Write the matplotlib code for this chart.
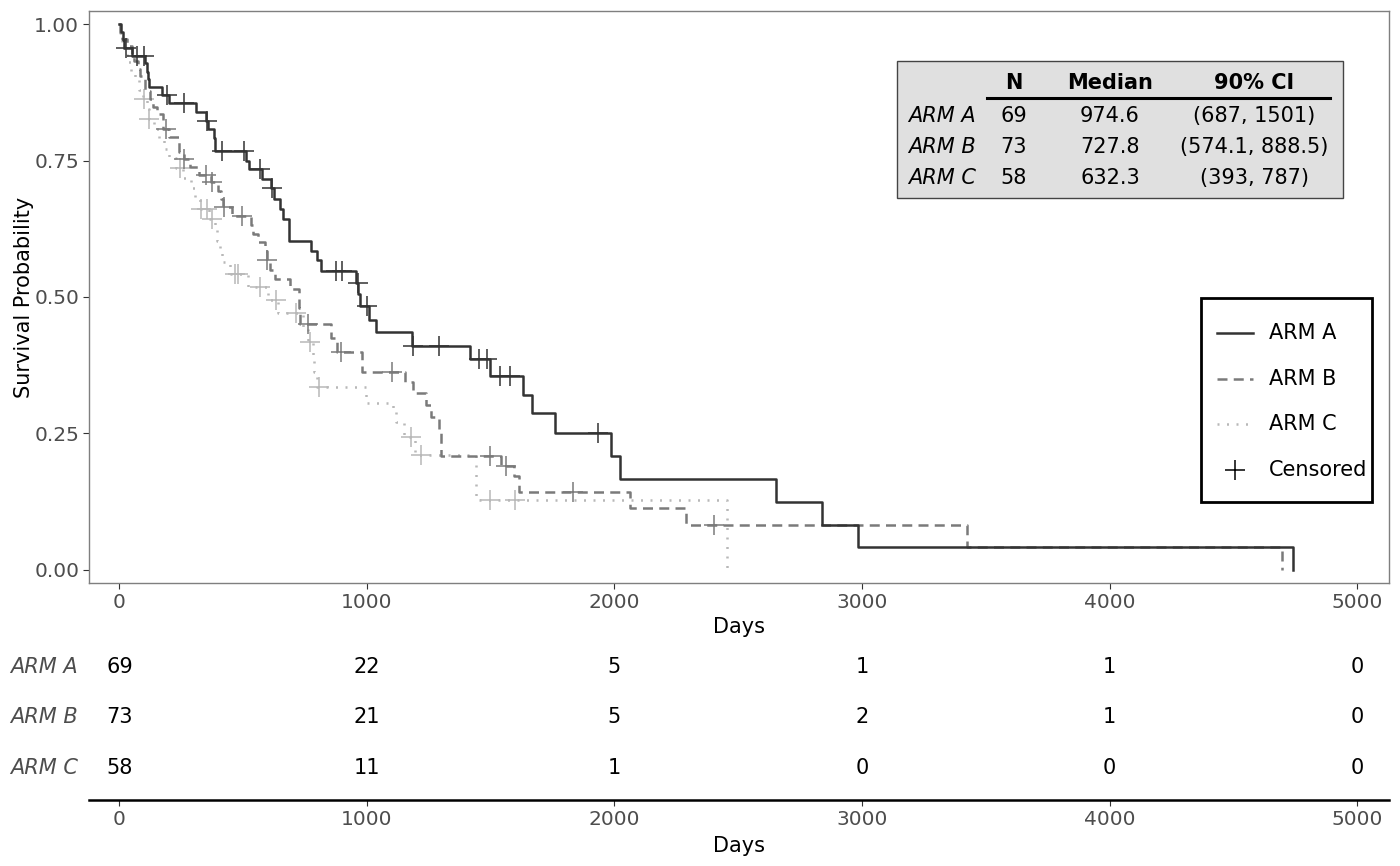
import numpy as np
import matplotlib
matplotlib.use("Agg")
import matplotlib.pyplot as plt
from matplotlib.lines import Line2D
from matplotlib.patches import Rectangle

# Kaplan-Meier steps: (event day, survival after the event)
arm_a_times = [8, 15, 20, 50, 105, 110, 115, 120, 170, 202, 310, 350, 357, 380, 386,
               512, 525, 574, 613, 626, 647, 659, 687, 775, 800, 815, 957, 963, 970,
               1010, 1037, 1181, 1415, 1496, 1630, 1668, 1761, 1987, 2021, 2652, 2838,
               2983, 4741]
arm_a_surv = [0.986, 0.971, 0.957, 0.942, 0.928, 0.913, 0.899, 0.884, 0.870, 0.855,
              0.839, 0.822, 0.807, 0.792, 0.768, 0.750, 0.735, 0.717, 0.699, 0.680,
              0.662, 0.642, 0.603, 0.585, 0.567, 0.548, 0.526, 0.505, 0.483, 0.457,
              0.436, 0.411, 0.387, 0.356, 0.320, 0.287, 0.250, 0.208, 0.166, 0.125,
              0.083, 0.042, 0.0]
arm_a_cens = [25, 69, 101, 194, 259, 352, 415, 505, 566, 617, 873, 900, 962, 1002,
              1185, 1293, 1452, 1486, 1536, 1576, 1933]

arm_b_times = [4, 12, 30, 50, 60, 75, 85, 105, 125, 135, 150, 175, 200, 240, 260, 285,
               320, 370, 400, 410, 420, 455, 530, 540, 560, 590, 595, 610, 630, 690,
               725, 728, 855, 880, 978, 1152, 1185, 1240, 1260, 1290, 1300, 1540, 1595,
               1615, 2061, 2288, 3424, 4697]
arm_b_surv = [0.986, 0.973, 0.959, 0.945, 0.932, 0.918, 0.904, 0.877, 0.863, 0.849,
              0.836, 0.808, 0.794, 0.766, 0.752, 0.738, 0.724, 0.710, 0.695, 0.680,
              0.665, 0.648, 0.632, 0.616, 0.600, 0.584, 0.567, 0.550, 0.533, 0.515,
              0.480, 0.450, 0.425, 0.400, 0.362, 0.345, 0.324, 0.302, 0.280, 0.250,
              0.208, 0.190, 0.172, 0.142, 0.114, 0.083, 0.042, 0.0]
arm_b_cens = [189, 262, 350, 372, 422, 497, 597, 760, 896, 1103, 1496, 1563, 1832, 2401]

arm_c_times = [3, 10, 20, 30, 47, 62, 80, 95, 110, 118, 140, 160, 180, 200, 230, 255,
               290, 305, 325, 360, 388, 393, 405, 416, 445, 520, 600, 640, 740, 760,
               781, 788, 800, 997, 1105, 1118, 1150, 1195, 1442, 2453]
arm_c_surv = [0.983, 0.966, 0.948, 0.931, 0.914, 0.897, 0.879, 0.862, 0.844, 0.826,
              0.808, 0.790, 0.772, 0.754, 0.736, 0.718, 0.699, 0.680, 0.661, 0.642,
              0.622, 0.603, 0.584, 0.565, 0.542, 0.518, 0.494, 0.470, 0.444, 0.417,
              0.390, 0.362, 0.335, 0.305, 0.289, 0.271, 0.244, 0.210, 0.128, 0.0]
arm_c_cens = [101, 121, 243, 330, 355, 372, 465, 478, 566, 633, 714, 768, 808, 1179,
              1219, 1496, 1597]

arm_names = ["ARM A", "ARM B", "ARM C"]
arm_n = [69, 73, 58]
arm_median = ["974.6", "727.8", "632.3"]
arm_ci = ["(687, 1501)", "(574.1, 888.5)", "(393, 787)"]

risk_days = [0, 1000, 2000, 3000, 4000, 5000]
risk_a = [69, 22, 5, 1, 1, 0]
risk_b = [73, 21, 5, 2, 1, 0]
risk_c = [58, 11, 1, 0, 0, 0]

colors = ["#333333", "#7a7a7a", "#b8b8b8"]
styles = ["-", (0, (4, 2.5)), (0, (0.8, 3))]
FS = 15
TS = 14.5

W, H = 1400, 866


def fx(px):
    return px / W


def fy(py):
    return 1 - py / H


fig = plt.figure(figsize=(14, 8.66), dpi=100)
ax = fig.add_axes([fx(89), fy(583), fx(1389) - fx(89), fy(11) - fy(583)])

arms = [(arm_a_times, arm_a_surv, arm_a_cens),
        (arm_b_times, arm_b_surv, arm_b_cens),
        (arm_c_times, arm_c_surv, arm_c_cens)]

# draw the lighter curves first so ARM A sits on top
for i in [2, 1, 0]:
    t, s, c = arms[i]
    tt = np.array([0] + t, dtype=float)
    ss = np.array([1.0] + s)
    ax.step(tt, ss, where="post", color=colors[i], linestyle=styles[i], lw=1.8,
            dash_capstyle="butt", zorder=3 + (2 - i))
    idx = np.searchsorted(tt, c, side="right") - 1
    ax.plot(c, ss[idx], linestyle="none", marker="+", markersize=15,
            markeredgewidth=1.1, color=colors[i], zorder=3 + (2 - i))

ax.set_xlim(-123, 5129)
ax.set_ylim(-0.024, 1.024)
ax.set_xticks(risk_days)
ax.set_yticks([0, 0.25, 0.5, 0.75, 1.0])
ax.set_yticklabels(["0.00", "0.25", "0.50", "0.75", "1.00"])
ax.tick_params(labelsize=TS, labelcolor="#4d4d4d", color="#333333", length=4, pad=3)
for sp in ax.spines.values():
    sp.set_color("#7f7f7f")
    sp.set_linewidth(1.0)
ax.set_xlabel("Days", fontsize=FS, labelpad=4)
ax.set_ylabel("Survival Probability", fontsize=FS, labelpad=0)

# legend box drawn by hand to match the reference frame
fig.patches.append(Rectangle((fx(1201), fy(502)), fx(1372) - fx(1201), fy(298) - fy(502),
                             transform=fig.transFigure, facecolor="white",
                             edgecolor="black", lw=2, zorder=5))
leg_y = [333, 379, 424, 470]
for k in range(3):
    fig.add_artist(Line2D([fx(1217), fx(1253)], [fy(leg_y[k])] * 2, color=colors[k],
                          linestyle=styles[k], lw=1.8, zorder=6))
    fig.text(fx(1269), fy(leg_y[k]), arm_names[k], ha="left", va="center",
             fontsize=FS, zorder=6)
fig.add_artist(Line2D([fx(1235)], [fy(leg_y[3])], color="black", linestyle="none",
                      marker="+", markersize=15, markeredgewidth=1.1, zorder=6))
fig.text(fx(1269), fy(leg_y[3]), "Censored", ha="left", va="center", fontsize=FS,
         zorder=6)

# summary table
fig.patches.append(Rectangle((fx(897), fy(198)), fx(1343) - fx(897), fy(61) - fy(198),
                             transform=fig.transFigure, facecolor="#e0e0e0",
                             edgecolor="#444444", lw=1.0, zorder=5))
col_x = [908, 1014, 1110, 1254]
hdr_y = 83
row_y = [116, 147, 178]
for lab, x in zip(["N", "Median", "90% CI"], col_x[1:]):
    fig.text(fx(x), fy(hdr_y), lab, ha="center", va="center", fontsize=FS,
             fontweight="bold", zorder=6)
fig.add_artist(Line2D([fx(987), fx(1330)], [fy(98), fy(98)], color="black", lw=2.2,
                      zorder=6))
for r in range(3):
    fig.text(fx(col_x[0]), fy(row_y[r]), arm_names[r], ha="left", va="center",
             fontsize=FS, style="italic", zorder=6)
    fig.text(fx(col_x[1]), fy(row_y[r]), str(arm_n[r]), ha="center", va="center",
             fontsize=FS, zorder=6)
    fig.text(fx(col_x[2]), fy(row_y[r]), arm_median[r], ha="center", va="center",
             fontsize=FS, zorder=6)
    fig.text(fx(col_x[3]), fy(row_y[r]), arm_ci[r], ha="center", va="center",
             fontsize=FS, zorder=6)

# numbers at risk
rax = fig.add_axes([fx(89), fy(800), fx(1389) - fx(89), fy(640) - fy(800)])
rax.set_xlim(ax.get_xlim())
rax.set_ylim(0, 160)
risk_rows = [risk_a, risk_b, risk_c]
risk_y = [800 - 667, 800 - 717, 800 - 768]
for r in range(3):
    for d, n in zip(risk_days, risk_rows[r]):
        rax.text(d, risk_y[r], str(n), ha="center", va="center", fontsize=FS)
    fig.text(fx(78), fy(800 - risk_y[r]), arm_names[r], ha="right",
             va="center", fontsize=FS, style="italic", color="#4d4d4d")
for s in ["top", "right", "left"]:
    rax.spines[s].set_visible(False)
rax.spines["bottom"].set_linewidth(1.8)
rax.spines["bottom"].set_color("black")
rax.set_yticks([])
rax.set_xticks(risk_days)
rax.tick_params(axis="x", labelsize=TS, labelcolor="#4d4d4d", color="#333333",
                length=4, pad=3)
rax.set_xlabel("Days", fontsize=FS, labelpad=5)

fig.savefig("out.png", dpi=100)
